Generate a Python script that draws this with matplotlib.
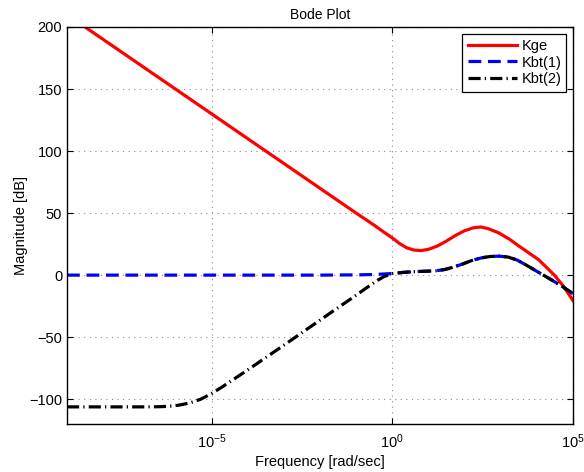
import numpy as np
import matplotlib
matplotlib.use("Agg")
import matplotlib.pyplot as plt

plt.rcParams['font.family'] = ['Liberation Sans', 'DejaVu Sans']
plt.rcParams['mathtext.fontset'] = 'custom'
plt.rcParams['mathtext.rm'] = 'Liberation Sans'
plt.rcParams['mathtext.it'] = 'Liberation Sans:italic'

# log10 of frequency [rad/sec] and magnitude [dB]
kge_logw = [-9, -2, -1, -0.5, -0.25, 0, 0.2, 0.4, 0.6, 0.8, 1.0, 1.25, 1.5, 1.75,
            2.0, 2.25, 2.45, 2.65, 2.95, 3.25, 3.5, 3.75, 4.05, 4.3, 4.5, 4.75, 5.0]
kge_db = [210, 70, 50, 40.2, 35, 30, 25.5, 22, 20.2, 19.8, 20.8, 23.5, 27.5, 32,
          35.8, 38.2, 38.8, 37.5, 34, 28.8, 23.5, 18.5, 12.4, 5.3, -0.5, -9.5, -20.5]

kbt1_logw = [-9, -2, -1, -0.5, 0, 0.3, 0.6, 0.9, 1.2, 1.45, 1.7, 1.95, 2.2, 2.45,
             2.7, 2.95, 3.2, 3.45, 3.7, 3.95, 4.2, 4.45, 4.7, 4.9, 5.0]
kbt1_db = [0, 0, 0.2, 0.5, 1.3, 2.2, 2.8, 3.1, 3.5, 4.5, 6.5, 9, 11.8, 13.8,
           15, 15.3, 14.6, 12.2, 8.2, 3.9, -0.3, -4.6, -9.1, -13, -15]

kbt2_logw = [-9, -7, -6.5, -6.2, -5.9, -5.6, -5.3, -5.0, -4.7, -4.4, -4.0, -3.0,
             -2.0, -1.5, -1.0, -0.7, -0.45, -0.25, -0.1, 0, 0.3, 0.6, 0.9, 1.2,
             1.45, 1.7, 1.95, 2.2, 2.45, 2.7, 2.95, 3.2, 3.45, 3.7, 3.95, 4.2,
             4.45, 4.7, 4.9, 5.0]
kbt2_db = [-106.2, -106.2, -106.1, -105.8, -104.8, -103, -100, -95.5, -90, -84.2,
           -76.4, -56.5, -36.3, -26.2, -16.2, -10, -5, -1.5, 0.3, 1.2, 2.2, 2.8,
           3.1, 3.5, 4.5, 6.5, 9, 11.8, 13.8, 15, 15.3, 14.6, 12.2, 8.2, 3.9,
           -0.3, -4.6, -9.1, -13, -15]

labels = ['Kge', 'Kbt(1)', 'Kbt(2)']
title = 'Bode Plot'
xlabel = 'Frequency [rad/sec]'
ylabel = 'Magnitude [dB]'

fig = plt.figure(figsize=(5.84, 4.72), dpi=100)
ax = fig.add_axes([67/584, (472-424)/472, (573-67)/584, (424-27)/472])

w = lambda l: 10.0 ** np.asarray(l, dtype=float)
ax.plot(w(kge_logw), kge_db, color='red', lw=2.3, label=labels[0])
ax.plot(w(kbt1_logw), kbt1_db, color='blue', lw=2.3, ls=(0, (4, 2.1)), label=labels[1])
ax.plot(w(kbt2_logw), kbt2_db, color='black', lw=2.3, ls=(0, (3.8, 1.3, 0.4, 1.3)), label=labels[2])

ax.set_xscale('log')
ax.set_xlim(1e-9, 1e5)
ax.set_ylim(-120, 200)
ax.set_xticks([1e-5, 1e0, 1e5])
ax.minorticks_off()
ax.set_yticks([-100, -50, 0, 50, 100, 150, 200])
ax.grid(True, which='major', color='0.55', ls=(0, (1, 4)), lw=0.8)
ax.tick_params(direction='in', top=True, right=True, labelsize=10.5, length=4, width=0.8)
ax.tick_params(axis='x', pad=6)
for s in ax.spines.values():
    s.set_linewidth(1.0)

ax.set_title(title, fontsize=10, pad=6)
ax.set_xlabel(xlabel, fontsize=10.5, labelpad=3)
ax.set_ylabel(ylabel, fontsize=10.5, labelpad=1)

leg = ax.legend(loc='upper right', fontsize=10.5, handlelength=3.4, frameon=True,
                fancybox=False, framealpha=1, edgecolor='black',
                borderaxespad=0.45, labelspacing=0.2, handletextpad=0.3,
                borderpad=0.35)
leg.get_frame().set_linewidth(0.9)

fig.savefig('out.png', dpi=100)
